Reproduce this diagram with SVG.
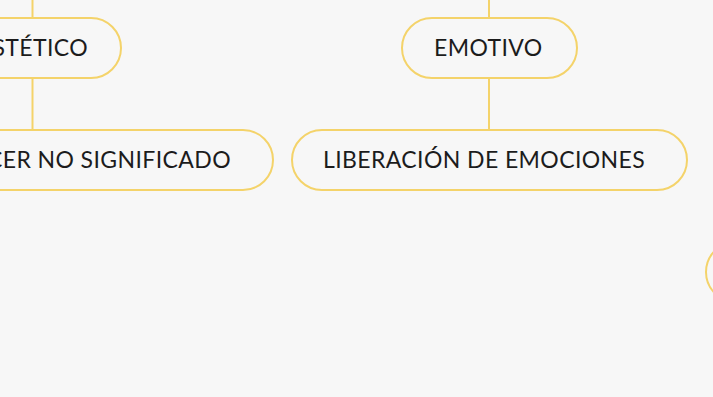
<svg xmlns="http://www.w3.org/2000/svg" width="713" height="397" viewBox="0 0 713 397">
<style>
.node rect{fill:#f7f7f7;stroke:#f4d36a;stroke-width:2}
.node text{font-family:Lato,"Liberation Sans",sans-serif;font-size:23px;letter-spacing:0.4px;fill:#1c1c1c}
.conn line{stroke:#f4d36a;stroke-width:2}
</style>
<rect width="713" height="397" fill="#f7f7f7"/>
<g id="connectors" class="conn">
<line x1="32.5" y1="0" x2="32.5" y2="18"/>
<line x1="32.5" y1="78" x2="32.5" y2="130"/>
<line x1="489" y1="0" x2="489" y2="18"/>
<line x1="489" y1="78" x2="489" y2="130"/>
</g>
<g id="estetico" class="node">
<rect x="-100" y="18" width="221" height="60" rx="30"/>
<text x="88" y="56" text-anchor="end">STÉTICO</text>
</g>
<g id="placer" class="node">
<rect x="-100" y="130" width="373" height="60" rx="30"/>
<text x="231" y="168" text-anchor="end">CER NO SIGNIFICADO</text>
</g>
<g id="emotivo" class="node">
<rect x="402" y="18" width="175" height="60" rx="30"/>
<text x="434" y="56">EMOTIVO</text>
</g>
<g id="liberacion" class="node">
<rect x="292" y="130" width="395" height="60" rx="30"/>
<text x="323" y="168">LIBERACIÓN DE EMOCIONES</text>
</g>
<g id="right" class="node">
<rect x="706" y="242" width="200" height="60" rx="30"/>
</g>
</svg>
